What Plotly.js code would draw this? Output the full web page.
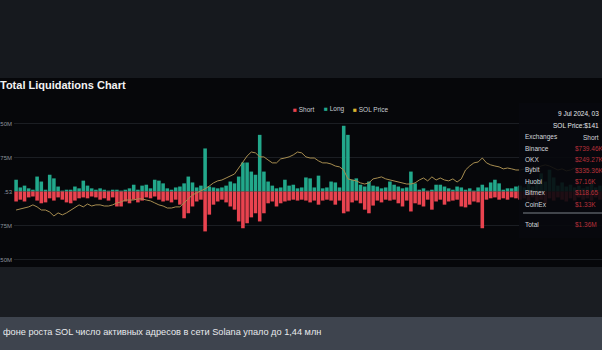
<!DOCTYPE html>
<html>
<head>
<meta charset="utf-8">
<script src="https://cdn.plot.ly/plotly-3.0.1.min.js"></script>
<style>
html,body{margin:0;padding:0;background:#16191e;overflow:hidden;}
#chart{width:602px;height:350px;}
</style>
</head>
<body>
<div id="chart"></div>
<script>
// Long liquidations per bar (USD millions)
const longLiq = [26,9,13,7,4,33,22,4,37,29,11,2,4,4,11,7,24,13,7,4,7,4,2,4,4,2,4,7,
  15,4,13,15,7,26,24,18,7,4,9,11,18,33,20,9,13,
  95,11,9,7,9,13,22,18,33,64, 64,44,37,125,44,22,13,7,9,26, 13,15,7,9,31,29,9,35,7,9,
  22,20,9,145,125,26,29,15,11,22, 13,11,7,9,22,15,11,7,9,44, 18,4,7,2,4,15,15,11,7,4,
  11,9,4,7,2,9,15,9,20,26, 18,4,7,7,11,13,
  9,18,11,26,40,22,48,31,13,20,11,15,9,13,7,11,18,9,13];
// Short liquidations per bar (USD millions)
const shortLiq = [22,18,22,13,11,20,26,24,15,20,13,18,24,26,20,15,13,15,11,13,18,15,20,13,33,33,22,26,
  18,24,20,13,15,11,18,22,20,24,18,29,59,48,33,22,18,
  88,51,29,22,18,24,33,40,66,81, 70,57,48,66,48,26,22,33,26,22, 20,18,20,18,20,24,20,29,20,18,
  20,29,20,48,44,24,20,26,40,48, 31,20,24,18,20,18,26,33,20,44, 26,29,33,18,40,22,18,29,22,20,
  18,33,35,29,22,24,81,18,15,13, 18,15,18,13,15,18,
  15,20,13,22,18,26,15,20,13,18,22,15,20,13,18,15,20,13,18];
// SOL price (USD)
const solPrice = [123.0,123.5,123.9,124.4,125.3,124.4,123.0,123.0,122.1,120.3,121.7,120.8,121.7,123.0,123.9,125.3,124.4,125.7,124.8,125.3,
  125.3,124.8,124.8,125.3,126.2,126.6,127.5,127.5,127.5,128.0,128.0,127.5,127.1,126.2,125.3,124.8,123.9,123.9,124.4,124.4,
  126.2,128.0,129.8,130.7,131.6,132.5,133.8,135.2,136.1,136.5,137.4,138.3,139.2,141.9,144.6,147.3,149.1,148.7,146.9,146.9,
  145.5,144.2,144.2,146.0,146.4,146.9,147.8,149.1,148.7,146.9,146.4,146.4,145.1,144.2,144.2,143.7,142.8,142.4,141.0,137.0,
  136.5,136.1,135.2,134.7,135.2,137.0,137.4,137.9,137.0,136.5,136.1,135.6,135.2,134.7,134.7,135.2,136.5,137.4,136.1,137.9,
  136.5,137.4,136.5,136.1,137.0,135.6,137.0,141.0,142.8,144.2,144.6,146.4,144.2,143.3,142.8,142.4,141.5,141.9,141.5,141.0,
  141.0,141.5,141.9,142.4,141.9,142.8,143.3,142.8,141.9,141.0,141.5,140.6,141.0,141.9,141.5,141.0,140.6,141.0,141.5,141.0];

const yTickVals = [-150,-75,0,75,150];
const yTickText = ['50M','75M','.53','75M','50M'];
const legendNames = ['Short','Long','SOL Price'];
const tipExchanges = ['Binance','OKX','Bybit','Huobi','Bitmex','CoinEx'];
const tipShort = ['$739.46K','$249.27K','$335.36K','$7.16K','$118.65','$1.33K'];
const tipTotal = '$1.36M';
const tipDate = '9 Jul 2024, 03';
const tipPrice = 'SOL Price:$141';
const tipHead = 'Short';
const caption = 'фоне роста SOL число активных адресов в сети Solana упало до 1,44 млн';

const RED = '#e9434f', GREEN = '#22a88b', GOLD = '#a78d50';
const L = 14, T = 78, B = 267, W = 588, H = B - T;
const px = X => (X - L) / W;
const py = Y => (B - Y) / H;

const traces = [
  {type:'bar', y: longLiq, marker:{color:GREEN}, name:'Long', hoverinfo:'skip'},
  {type:'bar', y: shortLiq.map(v => -v), marker:{color:RED}, name:'Short', hoverinfo:'skip'},
  {type:'scatter', mode:'lines', y: solPrice, yaxis:'y2', line:{color:GOLD, width:1}, name:'SOL Price', hoverinfo:'skip'}
];

const txt = (X, Y, text, size, color, anchor) => ({
  xref:'paper', yref:'paper', x:px(X), y:py(Y), text:text, showarrow:false,
  xanchor:anchor||'left', yanchor:'middle', font:{family:'Liberation Sans, Arial, sans-serif', size:size, color:color}
});

const annotations = [
  txt(291, 109, '<span style="color:'+RED+'">■</span> '+legendNames[0], 6.5, '#c9cdd3'),
  txt(322, 109, '<span style="color:'+GREEN+'">■</span> '+legendNames[1], 6.5, '#c9cdd3'),
  txt(351, 109, '<span style="color:#d9b530">■</span> '+legendNames[2], 6.5, '#c9cdd3'),
  txt(601, 113, tipDate, 6.5, '#e6e8eb', 'right'),
  txt(601, 125, tipPrice, 6.5, '#e6e8eb', 'right'),
  txt(523, 137, 'Exchanges', 6.5, '#d4d7dc'),
  txt(601, 137, tipHead, 6.5, '#d4d7dc', 'right'),
  txt(523, 224, 'Total', 6.5, '#d4d7dc'),
  txt(573, 224, tipTotal, 6.5, '#b8303a'),
  txt(1, 332, caption, 9.2, '#e8eaed')
];
tipExchanges.forEach((n, k) => {
  annotations.push(txt(523, 148 + k * 11.2, n, 6.5, '#d4d7dc'));
  annotations.push(txt(573, 148 + k * 11.2, tipShort[k], 6.5, '#b8303a'));
});

const shapes = [
  {type:'rect', xref:'paper', yref:'paper', x0:px(-5), x1:px(610), y0:py(T), y1:py(-5), fillcolor:'#16191e', line:{width:0}, layer:'below'},
  {type:'rect', xref:'paper', yref:'paper', x0:px(-5), x1:px(610), y0:py(317), y1:py(B), fillcolor:'#1a1d22', line:{width:0}, layer:'below'},
  {type:'rect', xref:'paper', yref:'paper', x0:px(-5), x1:px(610), y0:py(355), y1:py(317), fillcolor:'#3e444e', line:{width:0}, layer:'below'},
  {type:'rect', xref:'paper', yref:'paper', x0:px(519), x1:px(610), y0:py(238), y1:py(103), fillcolor:'rgba(8,9,13,0.9)', line:{width:0}, layer:'above'},
  {type:'line', xref:'paper', yref:'paper', x0:px(523), x1:px(610), y0:py(213), y1:py(213), line:{color:'#7d828a', width:1}, layer:'above'}
];

const layout = {
  width:602, height:350,
  margin:{l:L, r:0, t:T, b:350-B, pad:0},
  paper_bgcolor:'#06070a', plot_bgcolor:'#06070a',
  barmode:'relative', bargap:0.15, showlegend:false,
  title:{text:'<b>Total Liquidations Chart</b>', x:0, xanchor:'left', xref:'container',
         y:1-85/350, yanchor:'middle', yref:'container', pad:{t:0,b:0,l:0,r:0},
         font:{family:'Liberation Sans, Arial, sans-serif', size:11, color:'#f2f2f2'}},
  xaxis:{range:[-0.5, 139.5], showgrid:false, zeroline:false, showticklabels:false, showline:false, fixedrange:true},
  yaxis:{range:[-166.5, 250.4], tickvals:yTickVals, ticktext:yTickText, gridcolor:'#1b1e23', gridwidth:1,
         zeroline:false, showline:false, ticks:'', ticklabelstandoff:1,
         tickfont:{family:'Liberation Sans, Arial, sans-serif', size:6, color:'#8d939b'}},
  yaxis2:{overlaying:'y', range:[97.35, 182.4], showgrid:false, zeroline:false, showticklabels:false, showline:false},
  shapes:shapes, annotations:annotations
};

Plotly.newPlot('chart', traces, layout, {staticPlot:true, displayModeBar:false});
</script>
</body>
</html>
